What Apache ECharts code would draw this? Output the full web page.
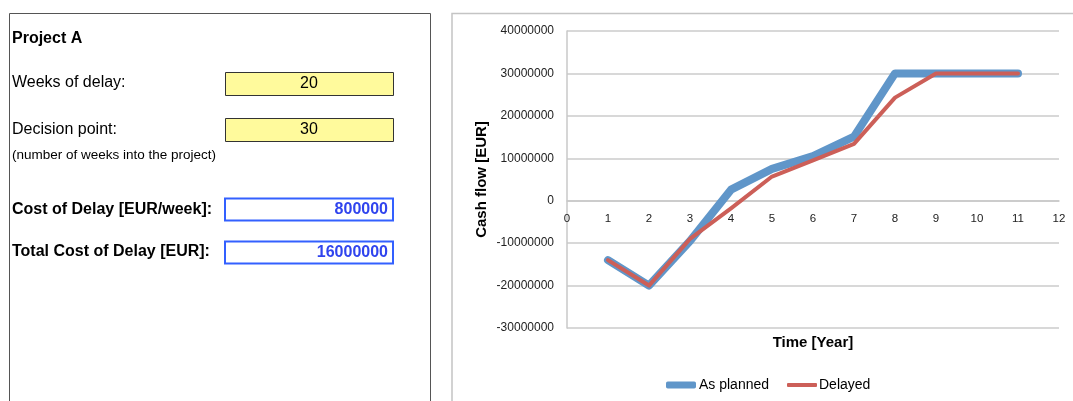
<!DOCTYPE html>
<html>
<head>
<meta charset="utf-8">
<script src="https://cdn.jsdelivr.net/npm/echarts@6/dist/echarts.min.js"></script>
<style>
  html, body { margin: 0; padding: 0; background: #fff; }
  #chart { width: 1073px; height: 401px; }
</style>
</head>
<body>
<div id="chart"></div>
<script>
// Project inputs and derived cost figures
const projectName = 'Project A';
const weeksOfDelay = 20;
const decisionPoint = 30;
const costOfDelayPerWeek = 800000;
const totalCostOfDelay = 16000000;

// Cash flow per year
const years = [1, 2, 3, 4, 5, 6, 7, 8, 9, 10, 11];
const asPlanned = [-14000000, -20000000, -9500000, 2600000, 7500000, 10500000, 15100000, 30000000, 30000000, 30000000, 30000000];
const delayed = [-14000000, -20000000, -9000000, -1800000, 5700000, 9500000, 13400000, 24300000, 30000000, 30000000, 30000000];

// Axis ranges
const yMin = -30000000;
const yMax = 40000000;
const yStep = 10000000;
const xMin = 0;
const xMax = 12;

const seriesNames = ['As planned', 'Delayed'];
const seriesColors = ['#6096C9', '#CC5F58'];

const FONT = '"Liberation Sans", Arial, sans-serif';

function pairs(xs, ys) { return xs.map((x, i) => [x, ys[i]]); }

function label(text, x, y, opts) {
  return {
    type: 'text',
    style: Object.assign({
      text: text, x: x, y: y,
      fontFamily: FONT, fontSize: 16, fill: '#000',
      align: 'left', verticalAlign: 'middle'
    }, opts || {})
  };
}
function box(x, y, w, h, fill, stroke, lw) {
  return {
    type: 'rect',
    shape: { x: x, y: y, width: w, height: h },
    style: { fill: fill, stroke: stroke, lineWidth: lw }
  };
}

const chart = echarts.init(document.getElementById('chart'), null, { renderer: 'canvas' });

chart.setOption({
  backgroundColor: '#fff',
  animation: false,
  graphic: [
    // input form panel
    box(9.5, 13.5, 421, 420, '#fff', '#555', 1),
    label(projectName, 12, 38.5, { fontWeight: 'bold' }),
    label('Weeks of delay:', 12, 83),
    box(225.5, 72.5, 168, 23, '#FFFA9C', '#333', 1),
    label(String(weeksOfDelay), 309, 83.5, { align: 'center' }),
    label('Decision point:', 12, 130),
    box(225.5, 118.5, 168, 23, '#FFFA9C', '#333', 1),
    label(String(decisionPoint), 309, 130, { align: 'center' }),
    label('(number of weeks into the project)', 12, 155, { fontSize: 13.5 }),
    label('Cost of Delay [EUR/week]:', 12, 209.5, { fontWeight: 'bold' }),
    box(225, 198.5, 168, 22, '#fff', '#3360FF', 2),
    label(String(costOfDelayPerWeek), 388, 209.5, { align: 'right', fontWeight: 'bold', fill: '#3044EE' }),
    label('Total Cost of Delay [EUR]:', 12, 252, { fontWeight: 'bold' }),
    box(225, 241.5, 168, 22, '#fff', '#3360FF', 2),
    label(String(totalCostOfDelay), 388, 252.5, { align: 'right', fontWeight: 'bold', fill: '#3044EE' }),
    // chart frame
    box(452, 13.5, 640, 420, 'rgba(0,0,0,0)', '#C4C4C4', 1.5)
  ],
  grid: { left: 567, right: 14, top: 31, bottom: 73, containLabel: false, outerBoundsMode: 'none' },
  legend: [
    {
      data: [seriesNames[0]], left: 666, top: 378, padding: 0,
      itemWidth: 30, itemHeight: 7, icon: 'roundRect', itemGap: 4,
      textStyle: { fontFamily: FONT, fontSize: 14, color: '#000', padding: [0, 0, 0, -2] }
    },
    {
      data: [seriesNames[1]], left: 787, top: 378, padding: 0,
      itemWidth: 30, itemHeight: 4, icon: 'roundRect', itemGap: 4,
      textStyle: { fontFamily: FONT, fontSize: 14, color: '#000', padding: [0, 0, 0, -3] }
    }
  ],
  xAxis: {
    type: 'value', min: xMin, max: xMax, interval: 1,
    name: 'Time [Year]', nameLocation: 'middle', nameGap: 135,
    nameTextStyle: { fontFamily: FONT, fontSize: 15, fontWeight: 'bold', color: '#000' },
    axisLine: { onZero: false, lineStyle: { color: '#C8C8C8', width: 1.5 } },
    axisTick: { show: false },
    splitLine: { show: false },
    axisLabel: { fontFamily: FONT, fontSize: 11.5, color: '#222', margin: 12, formatter: v => String(v) }
  },
  yAxis: {
    type: 'value', min: yMin, max: yMax, interval: yStep,
    name: 'Cash flow [EUR]', nameLocation: 'middle', nameGap: 78,
    nameTextStyle: { fontFamily: FONT, fontSize: 15, fontWeight: 'bold', color: '#000' },
    axisLine: { show: true, onZero: false, lineStyle: { color: '#C8C8C8', width: 1.5 } },
    axisTick: { show: false },
    splitLine: { lineStyle: { color: '#CBCBCB', width: 1.5 } },
    axisLabel: { fontFamily: FONT, fontSize: 12, color: '#222', margin: 13, formatter: v => String(v) }
  },
  series: [
    {
      name: seriesNames[0], type: 'line', data: pairs(years, asPlanned),
      showSymbol: false, symbol: 'none', color: seriesColors[0],
      lineStyle: { width: 8, color: seriesColors[0], cap: 'round', join: 'round' }
    },
    {
      name: seriesNames[1], type: 'line', data: pairs(years, delayed),
      showSymbol: false, symbol: 'none', color: seriesColors[1],
      lineStyle: { width: 4, color: seriesColors[1], cap: 'round', join: 'round' }
    }
  ]
});

// Move the time axis up so it crosses the value axis at zero
const zeroY = chart.convertToPixel({ yAxisIndex: 0 }, 0);
const bottomY = chart.convertToPixel({ yAxisIndex: 0 }, yMin);
chart.setOption({ xAxis: { offset: zeroY - bottomY } });
</script>
</body>
</html>
